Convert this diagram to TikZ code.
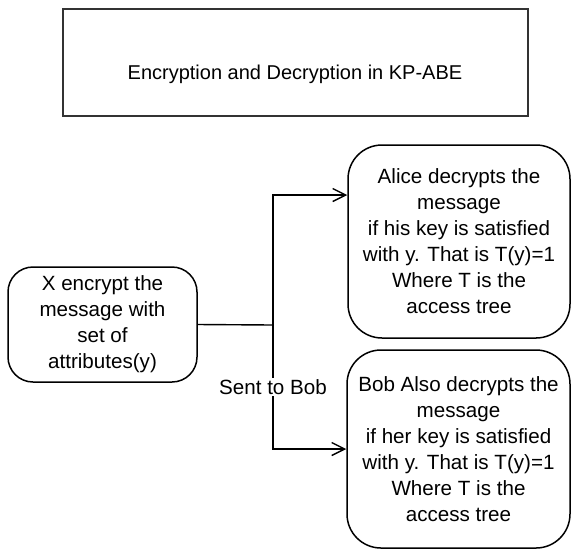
\documentclass[tikz,border=0pt]{standalone}
\usepackage{fontspec}
\setmainfont{Liberation Sans}
\usetikzlibrary{arrows.meta}
\begin{document}
\begin{tikzpicture}[x=1pt, y=-1pt,
    titlebox/.style={draw=black!80, line width=2.2pt, minimum width=465pt, minimum height=107pt, inner sep=0pt},
    roundbox/.style={draw, line width=1.5pt, rounded corners=#1, align=center, inner sep=0pt,
        font=\fontsize{20.6}{26}\selectfont},
    link/.style={line width=1.4pt, -{Straight Barb[length=13pt,width=13pt,line width=1.4pt]}},
]
    \useasboundingbox (0,0) rectangle (572,550);

    % --- title ---
    \node[titlebox] (title) at (295.5,62.5) {};
    \node[font=\fontsize{20}{24}\selectfont] (titletext) at (295,74) {Encryption and Decryption in KP-ABE};

    % --- boxes ---
    \node[roundbox=25pt, minimum width=189pt, minimum height=115pt] (enc) at (102.5,324.5)
        {X encrypt the\\message with\\set of\\attributes(y)};
    \node[roundbox=34pt, minimum width=222pt, minimum height=193pt] (alice) at (459,241.5)
        {Alice decrypts the\\message\\if his key is satisfied\\with y. That is T(y)=1\\Where T is the\\access tree};
    \node[roundbox=34pt, minimum width=223pt, minimum height=198pt] (bob) at (458.5,449)
        {Bob Also decrypts the\\message\\if her key is satisfied\\with y. That is T(y)=1\\Where T is the\\access tree};

    % --- connectors ---
    \coordinate (split) at (273,325);
    \draw[line width=1.4pt] (enc.east) -- (split);
    \draw[link] (split) |- ([yshift=46.5pt]alice.west);
    \draw[link] (split) |- node[pos=0.25, fill=white, inner sep=1.5pt, font=\fontsize{20.6}{26}\selectfont] (sent) {Sent to Bob} (bob.west);
\end{tikzpicture}
\end{document}
